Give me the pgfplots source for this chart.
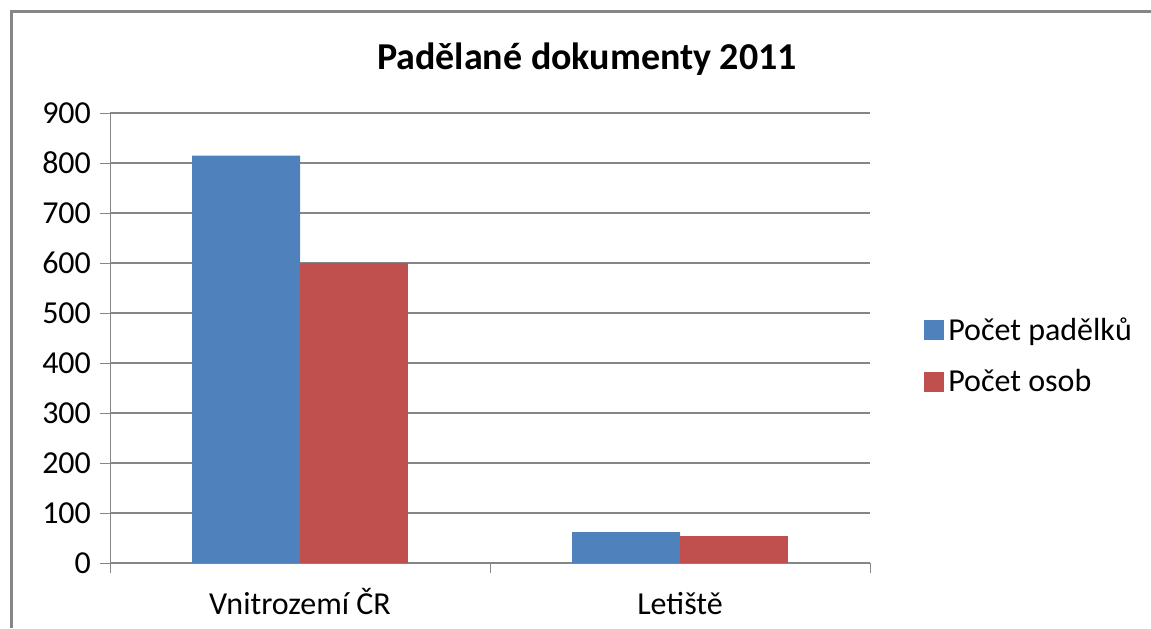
\documentclass[border=0pt]{standalone}
\usepackage{pgfplots}
\pgfplotsset{compat=1.18}
\usepackage{fontspec}
\setmainfont{Carlito}
\definecolor{cblue}{HTML}{4F81BD}
\definecolor{cred}{HTML}{C0504D}
\definecolor{axgray}{HTML}{868686}
\begin{document}
\begin{tikzpicture}
\useasboundingbox (0pt,0pt) rectangle (575.5pt,314pt);
\draw[axgray, line width=1.5pt] (5.5pt,0pt) -- (5.5pt,308pt) -- (575.5pt,308pt);
\node[font=\fontsize{19}{22}\selectfont\bfseries] at (293.5pt,284.5pt) {Padělané dokumenty 2011};
\begin{axis}[
  at={(55pt,32.5pt)}, anchor=south west,
  scale only axis, width=380pt, height=225pt,
  xmin=-0.5, xmax=1.5, ymin=0, ymax=900,
  ytick={0,100,...,900},
  xtick={0,1}, xticklabels={Vnitrozemí ČR, Letiště},
  minor xtick={-0.5,0.5,1.5},
  major x tick style={draw=none},
  minor x tick style={axgray},
  y tick style={axgray},
  tick align=outside, major tick length=5pt, minor tick length=5pt,
  axis x line*=bottom, axis y line*=left,
  axis line style={-, axgray},
  ymajorgrids, grid style={axgray, line width=0.6pt},
  ybar=0pt, bar width=0.284,
  ticklabel style={font=\fontsize{16}{18}\selectfont},
  /pgf/number format/assume math mode=true,
  yticklabel style={anchor=east, xshift=-1pt},
  xticklabel style={text height=12pt, text depth=3pt, yshift=-5pt},
  legend style={at={(1.063,0.46)}, anchor=west, draw=none, fill=none,
    font=\fontsize{16}{18}\selectfont, row sep=9pt,
    /tikz/every even column/.append style={column sep=0pt}},
  legend cell align=left,
  legend image code/.code={\fill[#1] (0pt,-5pt) rectangle (10pt,5pt);},
]
\addplot[fill=cblue, draw=none] coordinates {(0,815) (1,62)};
\addplot[fill=cred, draw=none] coordinates {(0,600) (1,54)};
\legend{Počet padělků, Počet osob}
\end{axis}
\end{tikzpicture}
\end{document}
